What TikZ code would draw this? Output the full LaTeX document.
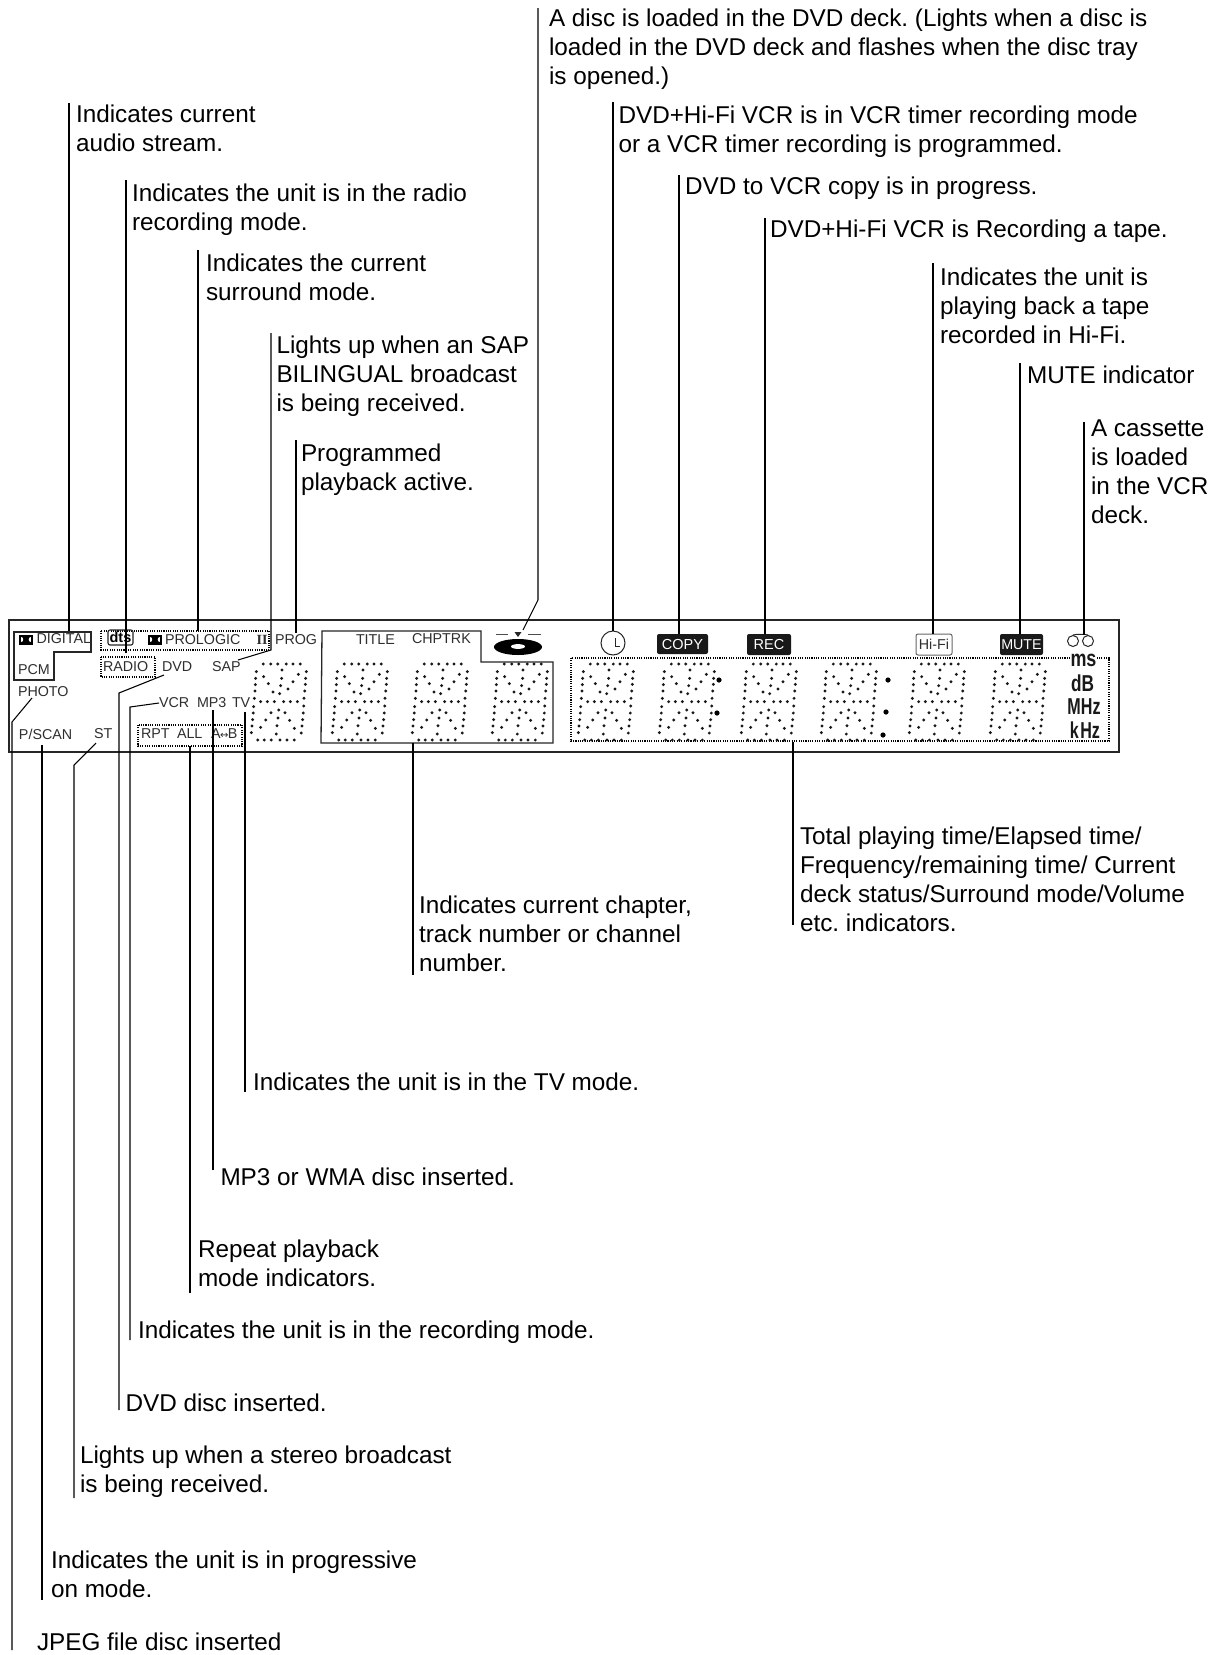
\documentclass[tikz,border=0pt]{standalone}
\usepackage{fontspec}
\setmainfont{Liberation Sans}
\newfontfamily\serifb{Liberation Serif}
\newfontfamily\arrowfont{DejaVu Sans}
\frenchspacing
\newcommand{\lab}[4]{\node[lbl] (#1) at (#2,#3) {#4};}
\newcommand{\ptxt}[4]{\node[ptext] (#1) at (#2,#3) {#4};}
\newcommand{\leader}[3]{\coordinate (#1a) at #2; \coordinate (#1b) at #3; \draw[lead] (#1a) -- (#1b);}
\tikzset{
  lbl/.style={anchor=north west,inner sep=0pt,outer sep=0pt,yshift=9pt,align=left,text=black,font=\fontsize{24.3}{29}\selectfont},
  ptext/.style={anchor=west,inner sep=0pt,outer sep=0pt,text=ink,font=\fontsize{14.3}{16}\selectfont},
  lead/.style={line width=1.05pt,draw=black},
  dots/.style={line width=1.1pt,draw=black,dash pattern=on 1.1pt off 1.2pt},
  solid box/.style={line width=1.3pt,draw=black!85},
  blackbadge/.style={fill=black!90,rounded corners=2pt,draw=none},
  unitt/.style={inner sep=0pt,outer sep=0pt,text=black!90,font=\fontsize{23}{23}\selectfont\bfseries},
  dig/.pic={
    \foreach \a/\b in {85/42,107/42,128/42,154/42,174/42,196/42,
      64/65,141/60,214/65,62/85,86/80,190/73,212/85,
      61/104,100/101,140/85,174/95,211/103,
      60/123,114/126,137/107,159/117,134/131,209/123,
      58/145,207/145,77/155,97/155,118/155,146/155,166/155,187/155,
      56/170,55/189,53/209,51/228,49/248,
      206/168,205/189,203/209,201/228,199/249,
      131/180,129/204,126/227,124/252,
      108/188,150/188,92/210,164/211,77/232,178/235,
      68/270,88/270,109/270,135/270,156/270,178/270}
      {\fill[black!90] ({\a/3},{\b/3}) circle (1.6pt);}
  },
  dolby/.pic={
    \fill[black] (0,0) rectangle (6.6,9.5);
    \fill[black] (7.4,0) rectangle (14,9.5);
    \fill[white] (2.2,2.2) .. controls (5,2.2) and (5,7.3) .. (2.2,7.3) -- cycle;
    \fill[white] (11.8,2.2) .. controls (9,2.2) and (9,7.3) .. (11.8,7.3) -- cycle;
  }
}
\definecolor{ink}{gray}{0.18}
\begin{document}
\begin{tikzpicture}[x=1pt,y=-1pt]
\useasboundingbox (0,0) rectangle (1220,1655);
\fill[white] (0,0) rectangle (1220,1655);

% panel
\draw[line width=2pt,draw=black!85] (9,620) rectangle (1119,752);

% dotted boxes
\draw[dots] (571,658) rectangle (1109,741);
\draw[dots] (101,631) rectangle (269,650);
\draw[dots] (101,657) rectangle (155,677);
\draw[dots] (138,725) rectangle (242,746);

% solid outlines
\draw[solid box] (14,632) -- (91,632) -- (91,652) -- (54,652) -- (54,680) -- (14,680) -- cycle;
\draw[solid box] (322,631) -- (481,631) -- (481,662) -- (553,662) -- (553,743) -- (321,743) -- cycle;

% digits
\foreach \x in {235,316,396,476,562,643,725,805,893,974} {\pic at (\x,650) {dig};}
\foreach \p/\q in {719/680,717/713,888/680,886/712,883/735} {\fill[black] (\p,\q) circle (2.6pt);}

% panel texts
\pic at (19,635) {dolby};
\pic at (148,635) {dolby};
\ptxt{tDigital}{36.5}{639}{DIGITAL}
\ptxt{tPcm}{18}{670}{PCM}
\ptxt{tPhoto}{18}{692}{PHOTO}
\ptxt{tPscan}{19}{734}{P/SCAN}
\ptxt{tSt}{94}{734}{ST}
\node[draw=black!85,line width=1.1pt,rounded corners=2pt,inner sep=0pt,minimum width=25pt,minimum height=15pt,font=\fontsize{14.5}{14}\selectfont\bfseries] (tDts) at (120.5,637.5) {dts};
\ptxt{tPro}{165}{640}{PROLOGIC}
\node[inner sep=0pt,font=\fontsize{14}{14}\selectfont\serifb\bfseries,text=ink] (tII) at (262,640) {II};
\ptxt{tProg}{275}{640}{PROG}
\ptxt{tRadio}{103}{667}{RADIO}
\ptxt{tDvd}{162}{667}{DVD}
\ptxt{tSap}{212}{667}{SAP}
\ptxt{tVcr}{159}{703}{VCR}
\ptxt{tMp}{197}{703}{MP3}
\ptxt{tTv}{232}{703}{TV}
\ptxt{tRpt}{141}{734}{RPT}
\ptxt{tAll}{177}{734}{ALL}
\ptxt{tAb}{211}{734}{A\kern-.5pt{\arrowfont\fontsize{10}{10}\selectfont↔}\kern-.5ptB}
\ptxt{tTitle}{356}{640}{TITLE}
\ptxt{tChp}{412}{639}{CHPTRK}

% disc
\fill[black] (518,647) ellipse (24pt and 8pt);
\fill[white] (518,646.5) ellipse (7pt and 2.4pt);
\fill[black!85] (514.5,632) -- (521.5,632) -- (518,637) -- cycle;
\draw[line width=1pt,black!70] (496,634) -- (508,634) (528,634) -- (541,634);

% clock
\node[circle,draw=black!85,line width=1pt,minimum size=24pt,inner sep=0pt] (clock) at (613,643) {};
\draw[line width=1pt,black!85] (615,638) -- (615,646) -- (620,646);

% badges
\node[blackbadge,minimum width=51pt,minimum height=20pt,inner sep=0pt,text=white,font=\fontsize{14.5}{16}\selectfont] (bCopy) at (682.5,644) {COPY};
\node[blackbadge,minimum width=44pt,minimum height=21pt,inner sep=0pt,text=white,font=\fontsize{14.5}{16}\selectfont] (bRec) at (769,644.5) {REC};
\node[draw=black!60,line width=1pt,rounded corners=2pt,minimum width=36pt,minimum height=21pt,inner sep=0pt,text=ink,font=\fontsize{14.3}{16}\selectfont] (bHifi) at (934,644.5) {Hi-Fi};
\node[blackbadge,minimum width=43pt,minimum height=21pt,inner sep=0pt,text=white,font=\fontsize{14.3}{16}\selectfont] (bMute) at (1021.5,644.5) {MUTE};

% cassette
\node[circle,draw=black!85,line width=1pt,minimum size=11pt,inner sep=0pt] (cassL) at (1073,641) {};
\node[circle,draw=black!85,line width=1pt,minimum size=11pt,inner sep=0pt] (cassR) at (1088,641) {};
\draw[line width=1pt,black!85] (cassL.north) .. controls (1077,634) and (1084,634) .. (cassR.north);

% units
\node[unitt,fill=white,inner xsep=1pt] (uMs) at (1083.5,660.5) {\scalebox{.78}[1]{ms}};
\node[unitt] (uDb) at (1082.5,683) {\scalebox{.75}[1]{dB}};
\node[unitt] (uMhz) at (1084,707) {\scalebox{.7}[1]{MHz}};
\node[unitt] (uKhz) at (1085,730) {\scalebox{.7}[1]{k\kern2pt Hz}};

% labels
\lab{lDisc}{549}{18}{A disc is loaded in the DVD deck. (Lights when a disc is\\loaded in the DVD deck and flashes when the disc tray\\is opened.)}
\lab{lTimer}{618.5}{115}{DVD+Hi-Fi VCR is in VCR timer recording mode\\or a VCR timer recording is programmed.}
\lab{lCopy}{685}{186}{DVD to VCR copy is in progress.}
\lab{lRec}{770}{229}{DVD+Hi-Fi VCR is Recording a tape.}
\lab{lHifi}{940}{276.5}{Indicates the unit is\\playing back a tape\\recorded in Hi-Fi.}
\lab{lMute}{1027}{375}{MUTE indicator}
\lab{lCass}{1091}{428.5}{A cassette\\is loaded\\in the VCR\\deck.}
\lab{lAudio}{76}{114}{Indicates current\\audio stream.}
\lab{lRadio}{132}{193}{Indicates the unit is in the radio\\recording mode.}
\lab{lSurr}{206}{263}{Indicates the current\\surround mode.}
\lab{lSap}{276.5}{345}{Lights up when an SAP\\BILINGUAL broadcast\\is being received.}
\lab{lProg}{301}{453}{Programmed\\playback active.}
\lab{lChap}{419}{904.5}{Indicates current chapter,\\track number or channel\\number.}
\lab{lTotal}{800}{836}{Total playing time/Elapsed time/\\Frequency/remaining time/ Current\\deck status/Surround mode/Volume\\etc. indicators.}
\lab{lTv}{253}{1082}{Indicates the unit is in the TV mode.}
\lab{lMp}{220.5}{1177}{MP3 or WMA disc inserted.}
\lab{lRep}{198}{1248.5}{Repeat playback\\mode indicators.}
\lab{lRecm}{138}{1330}{Indicates the unit is in the recording mode.}
\lab{lDvd}{125.5}{1403}{DVD disc inserted.}
\lab{lSt}{80}{1455}{Lights up when a stereo broadcast\\is being received.}
\lab{lPs}{51}{1560}{Indicates the unit is in progressive\\on mode.}
\lab{lJpeg}{37}{1642}{JPEG file disc inserted}

% leaders, top
\coordinate (dA) at (538,8); \coordinate (dB) at (538,600); \coordinate (dC) at (523,630);
\draw[lead] (dA) -- (dB) -- (dC);
\leader{cl}{(613,102)}{(clock.north)}
\leader{co}{(679,175)}{(679,634)}
\leader{re}{(765,218)}{(765,634)}
\leader{hi}{(933,263)}{(933,634)}
\leader{mu}{(1020,363)}{(1020,634)}
\leader{ca}{(1084,422)}{(1084,635)}
\leader{au}{(69,103)}{(69,631)}
\leader{ra}{(126,180)}{(126,653)}
\leader{su}{(198,250)}{(198,631)}
\coordinate (sA) at (271,333); \coordinate (sB) at (271,650); \coordinate (sC) at (238,660);
\draw[lead] (sA) -- (sB) -- (sC);
\leader{pr}{(296,440)}{(296,633)}
% leaders, bottom
\coordinate (phA) at (12,1650); \coordinate (phB) at (12,722); \coordinate (phC) at (32,698);
\draw[lead] (phA) -- (phB) -- (phC);
\leader{ps}{(42,1600)}{(42,745)}
\coordinate (stA) at (74,1498); \coordinate (stB) at (74,765); \coordinate (stC) at (96,743);
\draw[lead] (stA) -- (stB) -- (stC);
\coordinate (dvA) at (119,1410); \coordinate (dvB) at (119,693); \coordinate (dvC) at (164,675);
\draw[lead] (dvA) -- (dvB) -- (dvC);
\coordinate (vcA) at (130,1340); \coordinate (vcB) at (130,707);
\draw[lead] (vcA) -- (vcB) -- (tVcr.west);
\leader{rp}{(190,1293)}{(190,746)}
\leader{mp}{(213,1170)}{(213,710)}
\leader{tv}{(245,1092)}{(245,712)}
\leader{ch}{(413,975)}{(413,743)}
\leader{to}{(793,925)}{(793,742)}
\end{tikzpicture}
\end{document}
